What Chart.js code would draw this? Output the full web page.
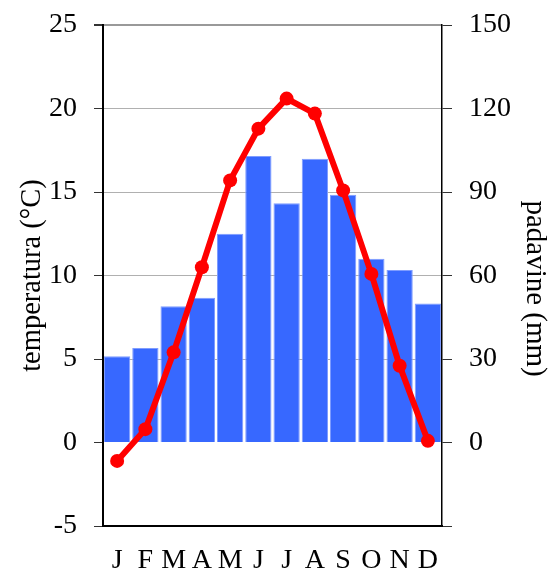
<!DOCTYPE html>
<html>
<head>
<meta charset="utf-8">
<script src="https://cdn.jsdelivr.net/npm/chart.js@4"></script>
<style>
html,body{margin:0;padding:0;background:#fff;}
#wrap{width:552px;height:572px;position:relative;}
</style>
</head>
<body>
<div id="wrap"><canvas id="c" width="552" height="572"></canvas></div>
<script>
const months = ['J','F','M','A','M','J','J','A','S','O','N','D'];
const temperature = [-1.1, 0.8, 5.4, 10.5, 15.7, 18.8, 20.6, 19.7, 15.1, 10.1, 4.6, 0.1];
const precipitation = [31, 34, 49, 52, 75, 103, 86, 102, 89, 66, 62, 50];
const tempTicks = [-5, 0, 5, 10, 15, 20, 25];
const precTicks = [-30, 0, 30, 60, 90, 120, 150];
const leftTitle = 'temperatura (°C)';
const rightTitle = 'padavine (mm)';

const FONT = '"Liberation Serif"';
Chart.defaults.font.family = FONT;

// draws the right axis title (slightly below centre, as in the reference)
const rightTitlePlugin = {
  id: 'rightTitle',
  afterDraw(chart) {
    const ctx = chart.ctx;
    const s = chart.scales.y1;
    ctx.save();
    ctx.fillStyle = '#000';
    ctx.font = '29px "Liberation Serif"';
    ctx.textAlign = 'center';
    ctx.textBaseline = 'middle';
    ctx.translate(s.right - 17, (s.top + s.bottom) / 2 + 13);
    ctx.rotate(Math.PI / 2);
    ctx.fillText(rightTitle, 0, 0);
    ctx.restore();
  }
};

new Chart(document.getElementById('c'), {
  data: {
    labels: months,
    datasets: [
      {
        type: 'line',
        label: 'temperatura',
        data: temperature,
        yAxisID: 'y',
        borderColor: '#ff0000',
        backgroundColor: '#ff0000',
        borderWidth: 6,
        pointRadius: 7,
        pointBackgroundColor: '#ff0000',
        pointBorderWidth: 0,
        tension: 0,
        order: 0
      },
      {
        type: 'bar',
        label: 'padavine',
        data: precipitation,
        yAxisID: 'y1',
        backgroundColor: '#3768ff',
        borderColor: '#7f9cff',
        borderWidth: 1,
        barPercentage: 0.93,
        categoryPercentage: 1.0,
        order: 1
      }
    ]
  },
  plugins: [rightTitlePlugin],
  options: {
    responsive: false,
    animation: false,
    devicePixelRatio: 1,
    layout: { padding: { top: 0, left: 0, right: 0, bottom: 0 } },
    plugins: { legend: { display: false }, tooltip: { enabled: false } },
    scales: {
      x: {
        grid: { display: false, drawTicks: false },
        border: { display: true, color: '#000', width: 2 },
        ticks: { color: '#000', font: { family: FONT, size: 28, lineHeight: 1 }, padding: 21, maxRotation: 0, autoSkip: false },
        afterFit: s => { s.height = 46; }
      },
      y: {
        position: 'left',
        min: -5, max: 25,
        afterBuildTicks: s => { s.ticks = tempTicks.map(v => ({ value: v })); },
        grid: {
          color: ctx => (ctx.tick && (ctx.tick.value === 25) ? '#999' : (ctx.tick && (ctx.tick.value === -5 || ctx.tick.value === 0) ? 'rgba(0,0,0,0)' : '#b0b0b0')),
          lineWidth: ctx => (ctx.tick && ctx.tick.value === 25 ? 2 : 1),
          tickColor: '#333',
          tickLength: 9,
          drawTicks: true
        },
        border: { display: true, color: '#000', width: 2 },
        ticks: { color: '#000', font: { family: FONT, size: 28, lineHeight: 0.58 }, padding: 17 },
        title: { display: true, text: leftTitle, color: '#000', font: { family: FONT, size: 28.5 }, padding: { top: 15, bottom: 0 } },
        afterFit: s => { s.width = 103; }
      },
      y1: {
        position: 'right',
        min: -30, max: 150,
        afterBuildTicks: s => { s.ticks = precTicks.map(v => ({ value: v })); },
        grid: { drawOnChartArea: false, tickColor: '#333', tickLength: 10, drawTicks: true },
        border: { display: true, color: '#000', width: 1.5 },
        ticks: { color: '#000', font: { family: FONT, size: 28, lineHeight: 0.58 }, padding: 17,
          callback: v => (v < 0 ? '' : String(v)) },
        afterFit: s => { s.width = 110; }
      }
    }
  }
});
</script>
</body>
</html>
